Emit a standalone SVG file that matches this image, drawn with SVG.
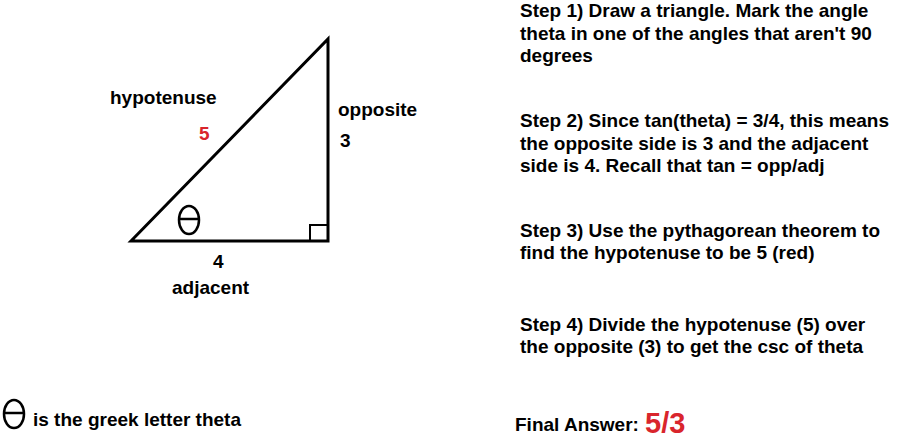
<svg xmlns="http://www.w3.org/2000/svg" width="900" height="441" viewBox="0 0 900 441">
<style>
text{font-family:"Liberation Sans",Arial,sans-serif;font-weight:bold;font-size:19px;fill:#000}
.red{fill:#d9252c}
.ln{fill:none;stroke:#000;stroke-width:3}
.th{fill:none;stroke:#000;stroke-width:2.5}
</style>
<rect width="900" height="441" fill="#fff"/>
<g id="triangle">
<polygon class="ln" points="131,241 328,39 328,241"/>
<rect x="310" y="225" width="18" height="16" fill="none" stroke="#000" stroke-width="2"/>
</g>
<g id="theta-angle">
<ellipse class="th" cx="189" cy="220" rx="10" ry="14"/>
<line class="th" x1="179" y1="219" x2="199" y2="219"/>
</g>
<g id="labels">
<text x="110" y="104">hypotenuse</text>
<text x="199" y="140" class="red">5</text>
<text x="338" y="116">opposite</text>
<text x="340" y="147">3</text>
<text x="213" y="268">4</text>
<text x="172" y="294">adjacent</text>
</g>
<g id="legend">
<ellipse class="th" cx="14" cy="414" rx="10" ry="14"/>
<line class="th" x1="4" y1="413" x2="24" y2="413"/>
<text x="33" y="426">is the greek letter theta</text>
</g>
<g id="steps">
<text x="520" y="17">Step 1) Draw a triangle. Mark the angle</text>
<text x="520" y="40">theta in one of the angles that aren't 90</text>
<text x="520" y="62">degrees</text>
<text x="520" y="127">Step 2) Since tan(theta) = 3/4, this means</text>
<text x="520" y="150">the opposite side is 3 and the adjacent</text>
<text x="520" y="172">side is 4. Recall that tan = opp/adj</text>
<text x="520" y="237">Step 3) Use the pythagorean theorem to</text>
<text x="520" y="259">find the hypotenuse to be 5 (red)</text>
<text x="520" y="331">Step 4) Divide the hypotenuse (5) over</text>
<text x="520" y="353">the opposite (3) to get the csc of theta</text>
<text x="515" y="431">Final Answer:</text>
<text x="645" y="433" class="red" style="font-size:29px">5/3</text>
</g>
</svg>
